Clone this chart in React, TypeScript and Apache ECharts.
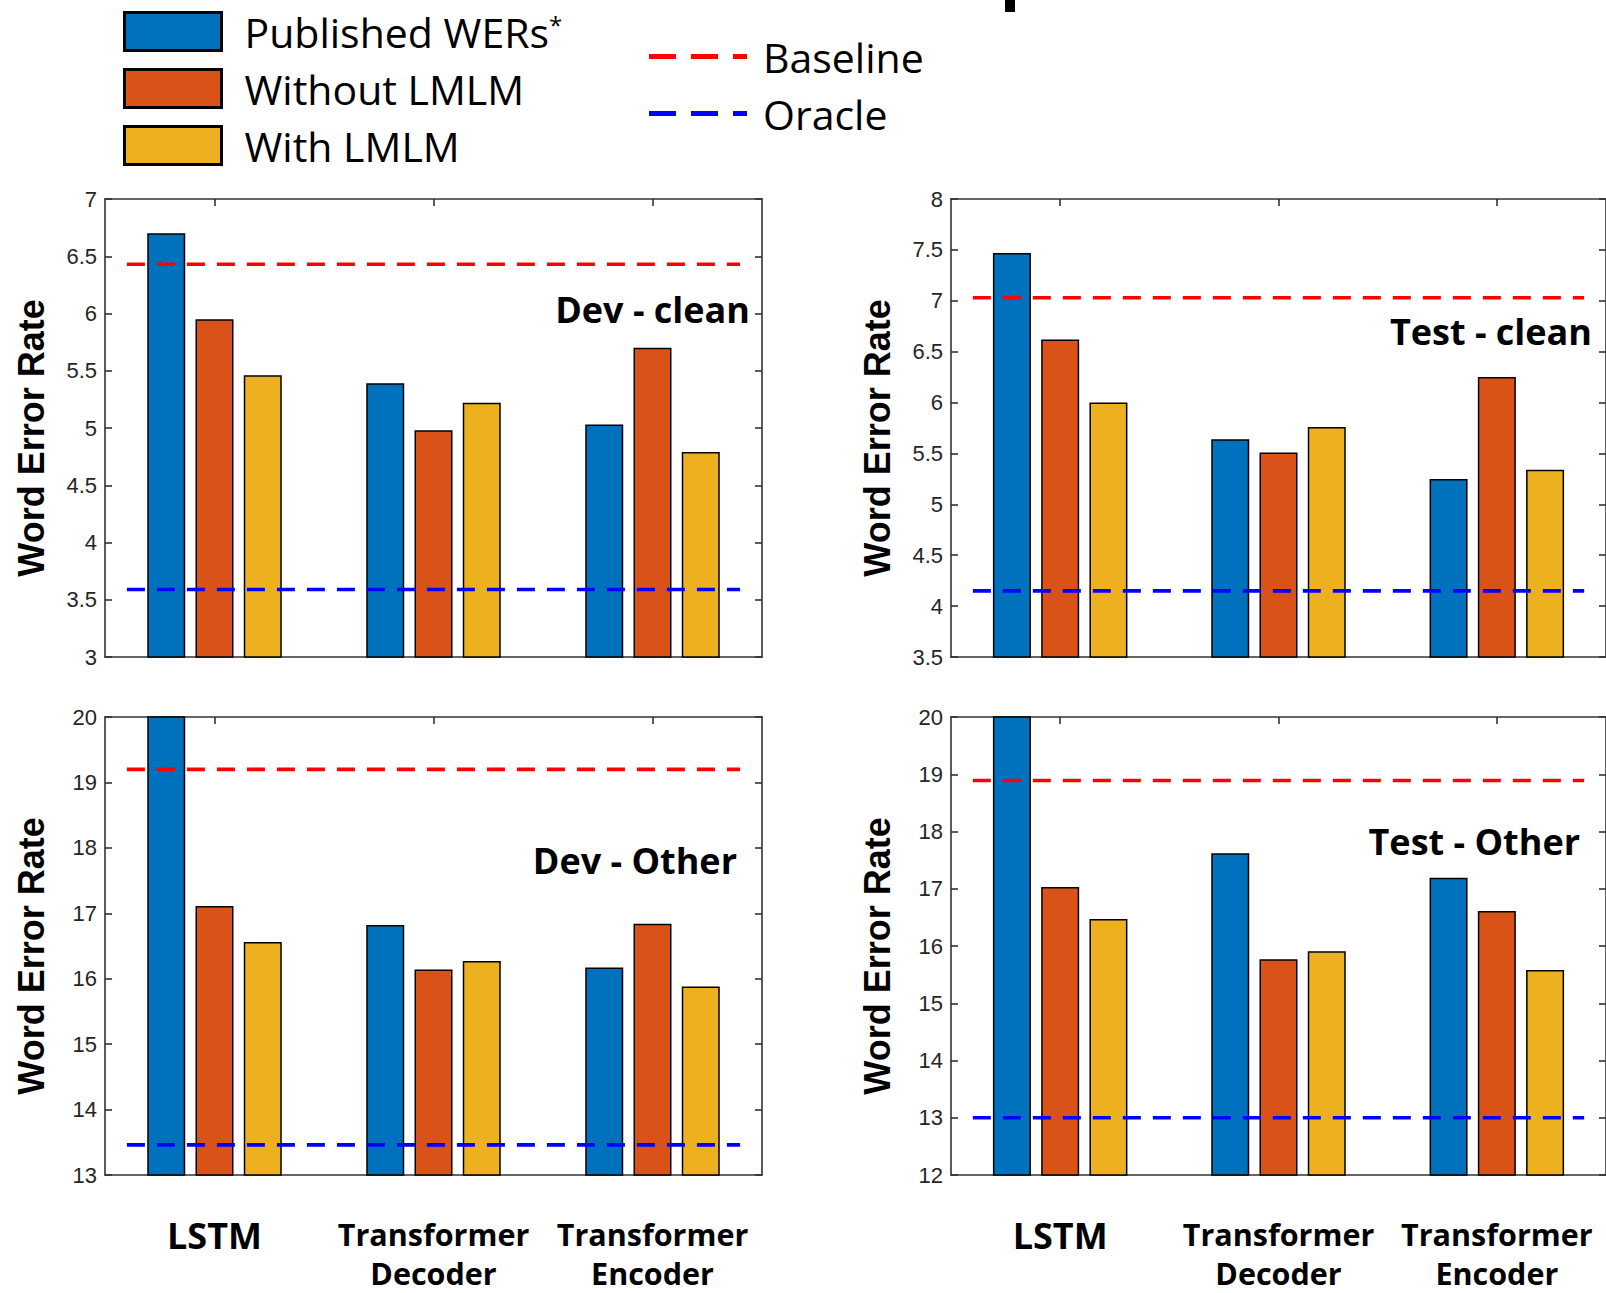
import React, { useEffect, useRef } from "react";
import * as echarts from "echarts";

// ---------- data ----------
const categories = ["LSTM", "Transformer\nDecoder", "Transformer\nEncoder"];
const barSeriesNames = ["Published WERs", "Without LMLM", "With LMLM"];
const lineSeriesNames = ["Baseline", "Oracle"];
const panelTitles = ["Dev - clean", "Test - clean", "Dev - Other", "Test - Other"];

const devCleanPublished = [6.7, 5.39, 5.03];
const devCleanWithout = [5.95, 4.98, 5.7];
const devCleanWith = [5.46, 5.22, 4.79];
const devCleanRefs = [6.43, 3.59]; // baseline, oracle

const testCleanPublished = [7.47, 5.64, 5.25];
const testCleanWithout = [6.62, 5.51, 6.25];
const testCleanWith = [6.0, 5.76, 5.34];
const testCleanRefs = [7.03, 4.15];

const devOtherPublished = [21.0, 16.82, 16.17];
const devOtherWithout = [17.11, 16.14, 16.84];
const devOtherWith = [16.56, 16.27, 15.88];
const devOtherRefs = [19.2, 13.46];

const testOtherPublished = [21.0, 17.62, 17.19];
const testOtherWithout = [17.03, 15.77, 16.61];
const testOtherWith = [16.47, 15.91, 15.58];
const testOtherRefs = [18.89, 13.0];

// y axis ranges: [min, max, interval]
const devCleanAxis = [3, 7, 0.5];
const testCleanAxis = [3.5, 8, 0.5];
const devOtherAxis = [13, 20, 1];
const testOtherAxis = [12, 20, 1];

// x extent of reference lines (in category units, groups at 1,2,3)
const refLineSpan = [0.6, 3.4];

// ---------- styling ----------
const barColors = ["#0072BD", "#D95319", "#EDB120"];
const lineColors = ["#FF0000", "#0000FF"];
const axisColor = "#333333";
const dashIcon = "path://M0,0h27v5h-27z M42,0h27v5h-27z M84,0h14v5h-14z";

const panels = [
  { bars: [devCleanPublished, devCleanWithout, devCleanWith], refs: devCleanRefs, axis: devCleanAxis },
  { bars: [testCleanPublished, testCleanWithout, testCleanWith], refs: testCleanRefs, axis: testCleanAxis },
  { bars: [devOtherPublished, devOtherWithout, devOtherWith], refs: devOtherRefs, axis: devOtherAxis },
  { bars: [testOtherPublished, testOtherWithout, testOtherWith], refs: testOtherRefs, axis: testOtherAxis },
];

const gridRects = [
  { left: 105, top: 199 },
  { left: 951, top: 199 },
  { left: 105, top: 717 },
  { left: 951, top: 717 },
];
const GW = 657;
const GH = 458;

const titlePos = [
  { x: 750, y: 309 },
  { x: 1592, y: 331 },
  { x: 737, y: 860 },
  { x: 1580, y: 841 },
];

function buildOption() {
  const grid: any[] = [];
  const xAxis: any[] = [];
  const yAxis: any[] = [];
  const series: any[] = [];
  const graphic: any[] = [];

  panels.forEach((p, i) => {
    const g = gridRects[i];
    grid.push({ left: g.left, top: g.top, width: GW, height: GH, containLabel: false });
    const isBottom = i >= 2;
    const axisLine = { show: true, lineStyle: { color: axisColor, width: 1.6 } };
    // bottom category axis
    xAxis.push({
      type: "category",
      gridIndex: i,
      data: categories,
      position: "bottom",
      axisLine,
      axisTick: { show: true, inside: true, alignWithLabel: true, length: 7, lineStyle: { color: axisColor, width: 1.6 } },
      axisLabel: {
        show: isBottom,
        interval: 0,
        margin: 39,
        formatter: (v: string) =>
          v === "LSTM"
            ? "{big|" + v + "}"
            : v
                .split("\n")
                .map((s) => "{n|" + s + "}")
                .join("\n"),
        rich: {
          big: {
            fontFamily: "Open Sans",
            fontWeight: "bold",
            fontSize: 36,
            lineHeight: 39,
            padding: [4, 0, 0, 0],
            color: "#000",
          },
          n: { fontFamily: "Open Sans", fontWeight: "bold", fontSize: 30.5, lineHeight: 39, color: "#000" },
        },
      },
      splitLine: { show: false },
    });
    // top mirrored axis
    xAxis.push({
      type: "category",
      gridIndex: i,
      data: categories,
      position: "top",
      axisLine,
      axisTick: { show: true, inside: true, alignWithLabel: true, length: 7, lineStyle: { color: axisColor, width: 1.6 } },
      axisLabel: { show: false },
      splitLine: { show: false },
    });
    // hidden value axis for reference lines
    xAxis.push({
      type: "value",
      gridIndex: i,
      min: 0.5,
      max: 3.5,
      show: false,
    });
    const [mn, mx, iv] = p.axis;
    yAxis.push({
      type: "value",
      gridIndex: i,
      min: mn,
      max: mx,
      interval: iv,
      position: "left",
      name: "Word Error Rate",
      nameLocation: "middle",
      nameGap: 56,
      nameRotate: 90,
      nameTextStyle: {
        fontFamily: "Liberation Sans",
        fontWeight: "bold",
        fontSize: 36,
        color: "#000",
        padding: [0, 20, 0, 0],
      },
      axisLine,
      axisTick: { show: true, inside: true, length: 7, lineStyle: { color: axisColor, width: 1.6 } },
      axisLabel: {
        show: true,
        margin: 8,
        fontFamily: "Liberation Sans",
        fontSize: 22,
        color: "#262626",
      },
      splitLine: { show: false },
    });
    yAxis.push({
      type: "value",
      gridIndex: i,
      min: mn,
      max: mx,
      interval: iv,
      position: "right",
      axisLine,
      axisTick: { show: true, inside: true, length: 7, lineStyle: { color: axisColor, width: 1.6 } },
      axisLabel: { show: false },
      splitLine: { show: false },
    });

    p.bars.forEach((vals, k) => {
      series.push({
        type: "bar",
        name: barSeriesNames[k],
        xAxisIndex: 3 * i,
        yAxisIndex: 2 * i,
        data: vals,
        barWidth: 38,
        barGap: "27%",
        clip: true,
        itemStyle: { color: barColors[k], borderColor: "#000", borderWidth: 1.5 },
        z: 2,
        silent: true,
      });
    });
    p.refs.forEach((v, k) => {
      series.push({
        type: "line",
        name: lineSeriesNames[k],
        xAxisIndex: 3 * i + 2,
        yAxisIndex: 2 * i,
        data: [
          [refLineSpan[0], v],
          [refLineSpan[1], v],
        ],
        symbol: "none",
        lineStyle: { color: lineColors[k], width: 3.6, type: [18, 12] },
        itemStyle: { color: lineColors[k] },
        z: 5,
        silent: true,
      });
    });

    graphic.push({
      type: "text",
      x: titlePos[i].x,
      y: titlePos[i].y,
      style: {
        text: panelTitles[i],
        fontFamily: "Open Sans",
        fontWeight: "bold",
        fontSize: 36,
        fill: "#000",
        align: "right",
        verticalAlign: "middle",
      },
      z: 10,
    });
  });

  // fragment of a cropped glyph at the top
  graphic.push({
    type: "rect",
    shape: { x: 1005, y: 0, width: 10, height: 12 },
    style: { fill: "#000" },
  });

  const legendText = {
    fontFamily: "Open Sans",
    fontSize: 41,
    color: "#000",
    lineHeight: 38,
  };

  return {
    animation: false,
    backgroundColor: "#ffffff",
    grid,
    xAxis,
    yAxis,
    series,
    graphic,
    legend: [
      {
        data: barSeriesNames,
        orient: "vertical",
        left: 123,
        top: 11,
        padding: 0,
        itemWidth: 97,
        itemHeight: 38,
        itemGap: 16,
        selectedMode: false,
        icon: "rect",
        itemStyle: { borderColor: "#000", borderWidth: 3 },
        formatter: (name: string) =>
          name === "Published WERs" ? "{a|" + name + "}{s|*}" : "{a|" + name + "}",
        textStyle: {
          ...legendText,
          padding: [0, 0, 0, 18],
          rich: {
            a: { fontFamily: "Open Sans", fontSize: 41, lineHeight: 38, color: "#000" },
            s: { fontFamily: "Open Sans", fontSize: 24, lineHeight: 38, color: "#000", verticalAlign: "top" },
          },
        },
      },
      {
        data: lineSeriesNames.map((n) => ({ name: n, icon: dashIcon })),
        orient: "vertical",
        left: 649,
        top: 36,
        padding: 0,
        itemWidth: 98,
        itemHeight: 5,
        itemGap: 16,
        selectedMode: false,
        textStyle: { ...legendText, padding: [0, 0, 0, 11] },
      },
    ],
  };
}

export default function App() {
  const ref = useRef<HTMLDivElement>(null);
  useEffect(() => {
    document.body.style.margin = "0";
    if (!ref.current) return;
    const chart = echarts.init(ref.current, undefined, { renderer: "svg" });
    chart.setOption(buildOption() as any);
    return () => {
      chart.dispose();
    };
  }, []);
  return <div ref={ref} style={{ width: 1606, height: 1293, background: "#fff" }} />;
}
